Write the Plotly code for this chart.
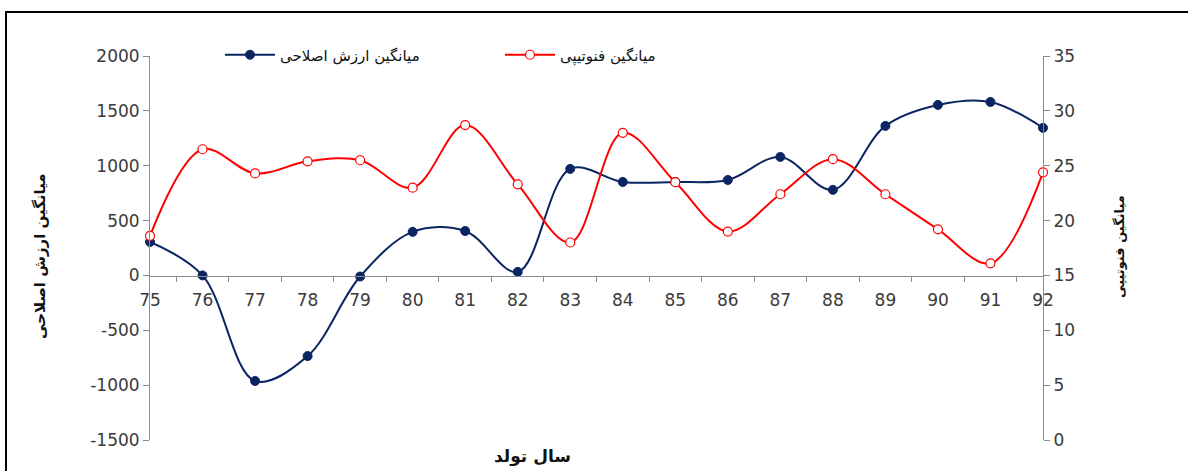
import plotly.graph_objects as go

years = ["75", "76", "77", "78", "79", "80", "81", "82", "83", "84",
         "85", "86", "87", "88", "89", "90", "91", "92"]
breeding_value = [305, 0, -962, -735, -10, 397, 405, 32, 971, 852,
                  852, 870, 1080, 780, 1363, 1554, 1581, 1345]
phenotype = [18.6, 26.5, 24.3, 25.4, 25.5, 23.0, 28.7, 23.3, 18.0, 28.0,
             23.5, 19.0, 22.4, 25.6, 22.4, 19.2, 16.1, 24.4]

left_ticks = [-1500, -1000, -500, 0, 500, 1000, 1500, 2000]
left_ticktext = ["-1500", "-1000", "-500", "0", "500", "1000", "1500", "2000"]
right_ticks = [0, 5, 10, 15, 20, 25, 30, 35]

name_bv = "میانگین ارزش اصلاحی"
name_ph = "میانگین فنوتیپی"
x_title = "سال تولد"

W, H = 1188, 471
L, R, T, B = 150, 145, 56, 31
pw, ph = W - L - R, H - T - B


def px_x(px):
    return (px - L) / pw


def px_y(py):
    return (H - B - py) / ph


blue = "#0b2562"
red = "#ff0000"
font_fam = "DejaVu Sans"

fig = go.Figure()
fig.add_trace(go.Scatter(
    x=years, y=breeding_value, name=name_bv, mode="lines+markers",
    line=dict(color=blue, width=2, shape="spline", smoothing=1.0),
    marker=dict(color=blue, size=9, line=dict(color=blue, width=1)),
    yaxis="y", cliponaxis=False,
))
fig.add_trace(go.Scatter(
    x=years, y=phenotype, name=name_ph, mode="lines+markers",
    line=dict(color=red, width=2, shape="spline", smoothing=1.0),
    marker=dict(color="white", size=9, line=dict(color=red, width=1.2)),
    yaxis="y2", cliponaxis=False,
))

tick_font = dict(family=font_fam, size=17, color="#3a3a3a")
axis_col = "#8c8c8c"

fig.update_layout(
    width=W, height=H,
    margin=dict(l=L, r=R, t=T, b=B, autoexpand=False),
    paper_bgcolor="white", plot_bgcolor="white",
    showlegend=True,
    legend=dict(orientation="h", x=px_x(220), xanchor="left",
                y=px_y(55), yanchor="middle",
                font=dict(family=font_fam, size=15, color="#111111"),
                entrywidth=215, itemwidth=50, bgcolor="rgba(0,0,0,0)"),
    xaxis=dict(type="category", range=[0, 17], anchor="free",
               position=px_y(275.5), showline=True, linecolor=axis_col,
               linewidth=1, ticks="outside", tickson="boundaries",
               ticklen=5, tickcolor=axis_col, showgrid=False,
               zeroline=False, tickfont=tick_font, ticklabelstandoff=9),
    yaxis=dict(range=[-1500, 2000], tickvals=left_ticks,
               ticktext=left_ticktext, showline=True,
               linecolor=axis_col, linewidth=1, ticks="outside", ticklen=6,
               tickcolor=axis_col, showgrid=False, zeroline=False,
               tickfont=tick_font, automargin=False),
    yaxis2=dict(range=[0, 35], tickvals=right_ticks, overlaying="y",
                side="right", showline=True, linecolor=axis_col,
                linewidth=1, ticks="outside", ticklen=6, tickcolor=axis_col,
                showgrid=False, zeroline=False, tickfont=tick_font,
                automargin=False),
    annotations=[
        dict(text="<b>" + name_bv + "</b>", x=px_x(40), y=px_y(256),
             xref="paper", yref="paper", showarrow=False, textangle=-90,
             xanchor="center", yanchor="middle",
             font=dict(family=font_fam, size=15, color="#111111")),
        dict(text="<b>" + name_ph + "</b>", x=px_x(1119), y=px_y(247),
             xref="paper", yref="paper", showarrow=False, textangle=-90,
             xanchor="center", yanchor="middle",
             font=dict(family=font_fam, size=13, color="#111111")),
        dict(text="<b>" + x_title + "</b>", x=px_x(532), y=px_y(456),
             xref="paper", yref="paper", showarrow=False,
             xanchor="center", yanchor="middle",
             font=dict(family=font_fam, size=17, color="#111111")),
    ],
    shapes=[
        dict(type="rect", xref="paper", yref="paper",
             x0=px_x(6), x1=px_x(1200), y0=px_y(490), y1=px_y(12),
             line=dict(color="black", width=2), fillcolor="rgba(0,0,0,0)"),
    ],
)

fig.write_html("out.html", config={"displayModeBar": False},
               post_script="document.body.style.margin='0';"
                           "document.body.style.overflow='hidden';")
